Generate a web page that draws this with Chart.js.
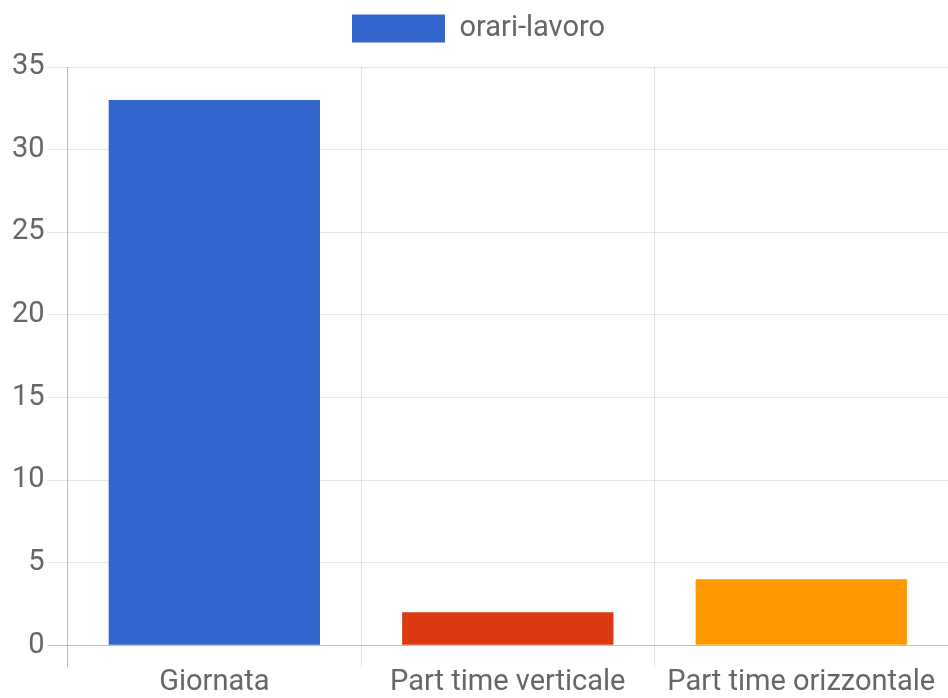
<!DOCTYPE html>
<html>
<head>
<meta charset="utf-8">
<script src="https://cdn.jsdelivr.net/npm/chart.js@4"></script>
<style>
  html, body { margin: 0; padding: 0; background: #fff; }
  #wrap { width: 948px; height: 698px; position: relative; }
</style>
</head>
<body>
<div id="wrap"><canvas id="orariChart"></canvas></div>
<script>
// orari di lavoro
var categories = ['Giornata', 'Part time verticale', 'Part time orizzontale'];
var orari = [33, 2, 4];
var barColors = ['#3366CC', '#DC3912', '#FF9900'];
var seriesLabel = 'orari-lavoro';

var FONT = { family: "Roboto, 'Liberation Sans', Arial, sans-serif", size: 29 };
var grey = '#666';

// a bit more room under the legend
var legendGap = {
    id: 'legendGap',
    afterInit: function (chart) {
        var fit = chart.legend.fit;
        chart.legend.fit = function () {
            fit.call(this);
            this.height += 14;
        };
    }
};

new Chart(document.getElementById('orariChart').getContext('2d'), {
    type: 'bar',
    data: {
        labels: categories,
        datasets: [{
            label: seriesLabel, data: orari,
            backgroundColor: barColors, borderWidth: 0,
            barPercentage: 0.9, categoryPercentage: 0.8
        }]
    },
    options: {
        responsive: true, maintainAspectRatio: false, animation: false,
        layout: { padding: { top: 4, left: 9, right: 0, bottom: 0 } },
        plugins: {
            legend: {
                labels: { font: FONT, color: grey, boxWidth: 93, boxHeight: 28, padding: 10 }
            },
            tooltip: { enabled: false }
        },
        scales: {
            x: {
                grid: {
                    offset: true, tickLength: 22,
                    color: function (c) { return c.index === 0 ? 'rgba(0,0,0,0.25)' : 'rgba(0,0,0,0.1)'; }
                },
                border: { display: false },
                ticks: {
                    font: { family: FONT.family, size: 29, lineHeight: 0.85 },
                    color: grey, padding: 3, maxRotation: 0, autoSkip: false
                }
            },
            y: {
                min: 0, max: 35,
                grid: {
                    tickLength: 20,
                    color: function (c) { return c.tick && c.tick.value === 0 ? 'rgba(0,0,0,0.25)' : 'rgba(0,0,0,0.1)'; }
                },
                border: { display: false },
                ticks: { stepSize: 5, font: FONT, color: grey, padding: 3 }
            }
        }
    },
    plugins: [legendGap]
});
</script>
</body>
</html>
